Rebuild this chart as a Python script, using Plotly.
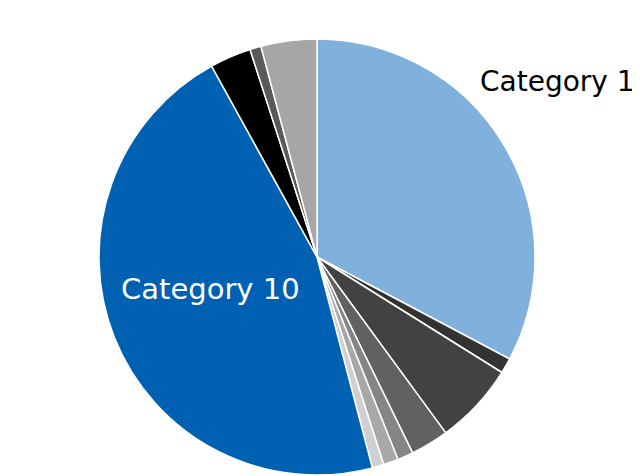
import plotly.graph_objects as go

labels = ["Category 1", "Category 2", "Category 3", "Category 4", "Category 5",
          "Category 6", "Category 7", "Category 10", "Category 8", "Category 9",
          "Category 11"]
values = [32.75, 1.14, 6.06, 2.83, 1.17, 1.11, 0.86, 46.06, 3.06, 0.83, 4.14]
colors = ["#80B0DC", "#333333", "#424242", "#616161", "#858585", "#A8A8A8",
          "#D0D0D0", "#0061B2", "#000000", "#5A5A5A", "#A6A6A6"]

W, H = 640, 476
OFF = 8  # page body margin offset
cx, cy, r = 317 - OFF, 257 - OFF, 218

fig = go.Figure(go.Pie(
    labels=labels,
    values=values,
    textinfo="none",
    sort=False,
    direction="clockwise",
    rotation=0,
    marker=dict(colors=colors, line=dict(color="white", width=1.5)),
    domain=dict(x=[(cx - r) / W, (cx + r) / W],
                y=[(H - cy - r) / H, (H - cy + r) / H]),
    showlegend=False,
    hoverinfo="label+percent",
))

fig.add_annotation(
    text=labels[0], x=(478 - OFF) / W, y=1 - (81 - OFF) / H,
    xref="paper", yref="paper",
    xanchor="left", yanchor="middle", showarrow=False,
    font=dict(family="DejaVu Sans", size=28, color="black"),
)
fig.add_annotation(
    text=labels[7], x=(210 - OFF) / W, y=1 - (289 - OFF) / H,
    xref="paper", yref="paper",
    xanchor="center", yanchor="middle", showarrow=False,
    font=dict(family="DejaVu Sans", size=29, color="white"),
)

fig.update_layout(
    width=W, height=H,
    margin=dict(l=0, r=0, t=0, b=0),
    paper_bgcolor="white",
    plot_bgcolor="white",
)

fig.write_html("out.html")
